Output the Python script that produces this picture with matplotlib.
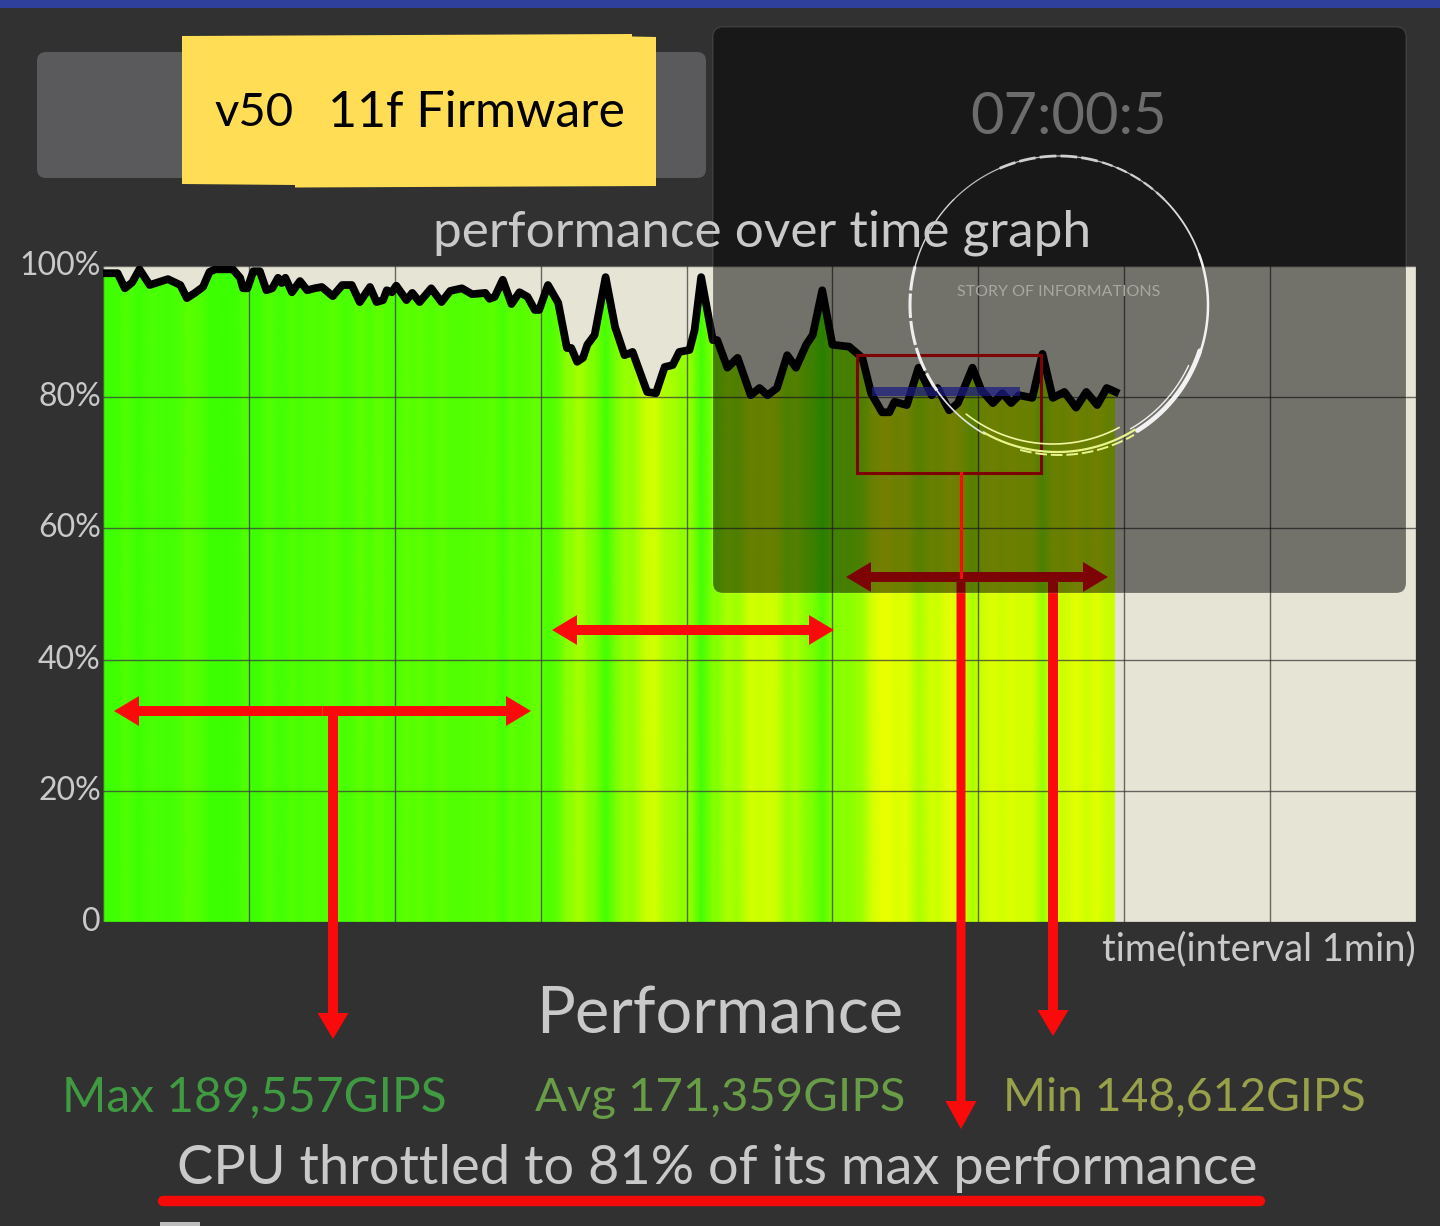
import numpy as np
import matplotlib
matplotlib.use("Agg")
import matplotlib.pyplot as plt
import matplotlib.patches as mp
from matplotlib.colors import LinearSegmentedColormap, Normalize

plt.rcParams['font.family'] = ['Lato', 'DejaVu Sans']

minutes = [0,.10,.15,.20,.25,.32,.445,.53,.575,.63,.685,.73,.77,.89,.94,.96,.99,1.03,1.075,1.12,1.16,1.20,1.225,1.25,1.295,1.35,1.40,1.45,1.50,1.575,1.64,1.705,1.76,1.83,1.875,1.92,1.945,1.98,2.01,2.08,2.12,2.17,2.25,2.32,2.38,2.46,2.53,2.62,2.65,2.685,2.74,2.80,2.855,2.91,2.96,2.99,3.05,
 3.12,3.18,3.21,3.25,3.29,3.32,3.37,3.445,3.51,3.575,3.63,3.73,3.79,3.85,3.905,3.95,4.02,4.055,4.10,4.18,4.21,4.28,4.35,4.44,4.50,4.555,4.62,4.69,4.75,4.82,4.865,4.93,5.00,
 5.115,5.205,5.265,5.34,5.39,5.425,5.51,5.59,5.68,5.72,5.80,5.86,5.96,6.02,6.10,6.165,6.225,6.28,6.37,6.44,6.51,6.59,6.67,6.74,6.815,6.88,6.94]
performance = [98.9,98.9,96.6,97.5,99.5,97.1,98.0,97.1,95.1,95.9,96.8,99.1,99.5,99.5,98.2,96.6,96.6,99.2,99.2,96.3,96.6,98.2,97.4,98.2,96.0,97.7,96.3,96.6,96.8,95.4,97.1,97.1,94.5,96.8,94.5,94.8,96.3,96.0,97.0,94.8,95.9,94.5,96.6,94.5,96.2,96.6,95.7,95.9,95.0,95.3,97.9,94.2,96.0,95.3,93.3,93.3,97.1,
 94.4,87.5,87.5,85.4,86.0,88.0,89.5,98.3,90.7,86.4,86.9,80.8,80.6,84.6,84.9,86.9,87.2,90.2,98.3,88.7,88.7,84.5,86.0,80.3,81.4,80.3,81.4,86.4,84.5,88.0,89.5,96.3,88.0,
 87.7,86.0,80.6,77.7,77.7,79.3,78.8,84.5,80.3,81.4,78.0,79.1,84.5,81.1,79.1,80.6,79.1,80.3,79.9,86.6,79.9,80.8,78.4,80.8,78.8,81.4,80.8]
y_ticks = [0,20,40,60,80,100]
y_labels = ['0','20%','40%','60%','80%','100%']
x_grid = [0,1,2,3,4,5,6,7,8,9]
title_text = 'performance over time graph'
stats = ['Max 189,557GIPS','Avg 171,359GIPS','Min 148,612GIPS']

W,H = 1440,1226
TXT = '#c9c9c9'
fig = plt.figure(figsize=(14.4,12.26),dpi=100,facecolor='#313131')

# chart
ax = fig.add_axes([103/W,1-922/H,(1416-103)/W,(922-266)/H],zorder=1)
ax.set_xlim(0,9); ax.set_ylim(0,100)
ax.set_facecolor('#e6e5d5')
for s in ax.spines.values(): s.set_visible(False)
t = np.array(minutes); p = np.array(performance)
cmap = LinearSegmentedColormap.from_list('heat',[
    (0,'#f4ff00'),((78-75)/25,'#e8ff00'),((81-75)/25,'#ccff00'),((85-75)/25,'#a8ff00'),
    ((88-75)/25,'#88ff00'),((92-75)/25,'#6aff00'),((95-75)/25,'#5cff00'),((98-75)/25,'#44ff04'),(1,'#3aff00')])
X,Y = np.meshgrid(t,[0,100])
mesh = ax.pcolormesh(X,Y,np.vstack([p,p]),shading='gouraud',cmap=cmap,norm=Normalize(75,100),zorder=1)
poly = ax.fill_between(t,0,p,color='none')
mesh.set_clip_path(poly.get_paths()[0],ax.transData)
ax.set_xticks(x_grid); ax.set_xticklabels([])
ax.set_yticks(y_ticks); ax.set_yticklabels(y_labels,color=TXT,fontsize=23,va='bottom')
ax.tick_params(length=0,pad=1.5)
for lab in ax.get_yticklabels():
    lab.set_transform(lab.get_transform()+matplotlib.transforms.ScaledTranslation(0,-15/100,fig.dpi_scale_trans))
ax.grid(True,color='#3a3a3a',lw=1,alpha=.75,zorder=2)
ax.set_axisbelow(False)
ax.plot(t,p,color='black',lw=5.6,zorder=3,solid_joinstyle='round')

# decorations, in pixel space
d = fig.add_axes([0,0,1,1],zorder=2)
d.set_xlim(0,W); d.set_ylim(H,0); d.axis('off'); d.patch.set_alpha(0)
d.add_patch(mp.Rectangle((0,0),W,8,color='#2e3f9c',lw=0))
d.add_patch(mp.FancyBboxPatch((37,52),669,126,boxstyle='round,pad=0,rounding_size=9',fc='#5a5a5c',ec='none'))
d.add_patch(mp.Polygon([(182,36),(632,34),(632,36.5),(656,37),(656,186),(295,187.5),(295,185),(182,184)],fc='#ffdd55',ec='none'))
d.text(214,126,'v50',fontsize=34,color='black',va='baseline')
d.text(328,127,'11f Firmware',fontsize=36,color='black',va='baseline')
d.text(433,247,title_text,fontsize=37,color=TXT,va='baseline')
d.text(1416,960,'time(interval 1min)',fontsize=27.4,color=TXT,ha='right',va='baseline')
d.text(720,1034,'Performance',fontsize=46.7,color=TXT,ha='center',va='baseline')
d.text(62,1111,stats[0],fontsize=34.5,color='#3f9a42',va='baseline')
d.text(535,1111,stats[1],fontsize=34,color='#689c46',va='baseline')
d.text(1003,1111,stats[2],fontsize=33.3,color='#98a04a',va='baseline')
d.text(177,1184,'CPU throttled to 81% of its max performance',fontsize=39,color=TXT,va='baseline')
d.plot([163,1260],[1201,1201],color='#f50a0a',lw=7.5,solid_capstyle='round')
d.add_patch(mp.Rectangle((160,1222),40,4,color='#bdbdbd',lw=0))

RED='#fa0a0a'
def arrow(x0,y0,x1,y1,w=10,hw=30,hl=25):
    d.add_patch(mp.FancyArrow(x0,y0,x1-x0,y1-y0,width=w,head_width=hw,head_length=hl,
                              length_includes_head=True,color=RED,lw=0))
def both(x0,x1,y):
    m=(x0+x1)/2; arrow(m,y,x0,y); arrow(m,y,x1,y)
both(114,531,711); both(552,834,630); both(846,1108,577)
arrow(333,711,333,1039,w=10,hw=31,hl=26)
arrow(1053,577,1053,1036,w=10,hw=31,hl=26)
arrow(961,577,961,1129,w=9,hw=31,hl=28)
d.add_patch(mp.Rectangle((857,355),184,118,fill=False,ec=RED,lw=2.2))
d.plot([961,961],[473,577],color=RED,lw=2.2)
d.add_patch(mp.Rectangle((872,387),148,9,fc='#3a3aff',ec='none',alpha=.75))

# dark overlay
d.add_patch(mp.FancyBboxPatch((713,27),693,566,boxstyle='round,pad=0,rounding_size=10',fc=(0,0,0,.5),ec=(1,1,1,.1),lw=1))
d.text(1069,134,'07:00:5',fontsize=41.6,color='#6c6c6c',ha='center',va='baseline')
d.text(1059,296,'STORY OF INFORMATIONS',fontsize=11.5,color='#a8a8a0',ha='center',va='baseline')

# brush ring
def ring(a0,a1,lw,r=149,c='#f2f2f2',ls='-',dx=0,dy=0,al=1):
    th=np.radians(np.linspace(a0,a1,80))
    d.plot(1059+dx+r*np.cos(th),305+dy-r*np.sin(th),color=c,lw=lw,ls=ls,alpha=al,solid_capstyle='round')
ring(20,45,1.3,c='#dddddd')
ring(45,135,.9,c='#bcbcbc')
ring(75,115,2,c='#cfcfcf',ls=(0,(6,1.5)))
ring(45,75,1.6,c='#cfcfcf',ls=(0,(5,2)))
ring(135,165,1,c='#d8d8d8')
ring(165,215,2.2,c='#eeeeee',ls=(0,(8,1)))
ring(215,240,1.2,c='#e4e4e4')
ring(-20,20,1.8)
ring(-58,-18,3.4,r=148)
ring(-60,-25,1,r=143)
ring(-120,-58,1.6,r=147,c='#e9f58a',dx=-2)
ring(-128,-62,1.2,r=141,c='#f0f7a0',dx=-6,dy=-2)
ring(-105,-60,1.4,r=150,c='#e9f58a',ls=(0,(6,2)))
fig.savefig('out.png',dpi=100,facecolor=fig.get_facecolor())
